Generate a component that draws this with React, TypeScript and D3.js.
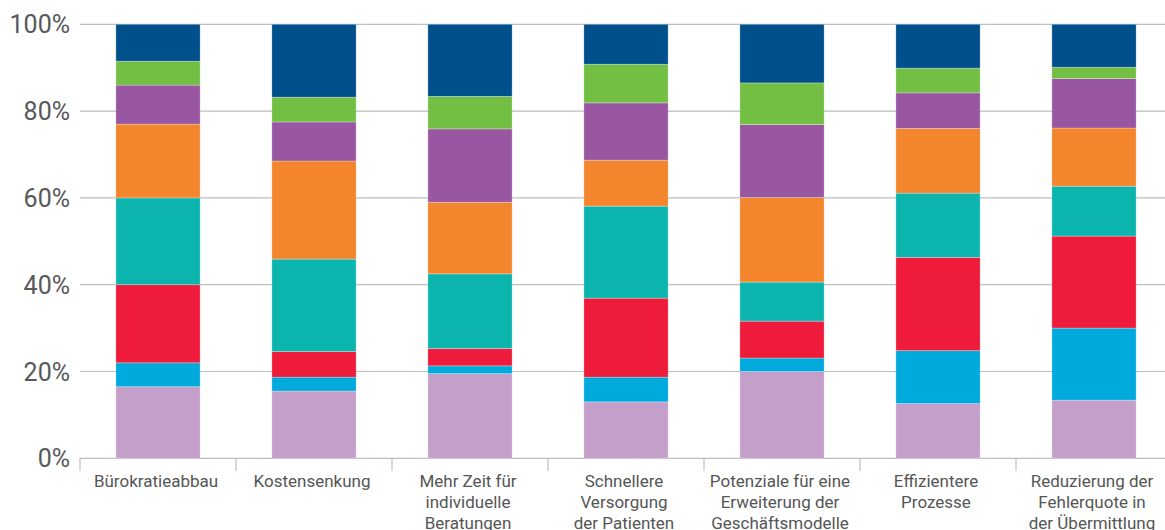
import React from "react";
import * as d3 from "d3";

// categories (label lines)
const categories = [
  "Bürokratieabbau",
  "Kostensenkung",
  "Mehr Zeit für\nindividuelle\nBeratungen",
  "Schnellere\nVersorgung\nder Patienten",
  "Potenziale für eine\nErweiterung der\nGeschäftsmodelle",
  "Effizientere\nProzesse",
  "Reduzierung der\nFehlerquote in\nder Übermittlung",
];

// segments, bottom to top (% of answers)
const lilac = [16.5, 15.5, 19.5, 13.0, 20.0, 12.6, 13.4];
const lightBlue = [5.5, 3.2, 1.8, 5.7, 3.1, 12.2, 16.6];
const red = [18.0, 5.9, 4.0, 18.2, 8.5, 21.5, 21.2];
const teal = [20.0, 21.3, 17.2, 21.2, 9.0, 14.8, 11.5];
const orange = [17.0, 22.6, 16.5, 10.6, 19.5, 14.9, 13.4];
const purple = [9.0, 9.0, 16.9, 13.2, 16.8, 8.2, 11.4];
const green = [5.5, 5.7, 7.5, 8.9, 9.6, 5.7, 2.6];
const navy = [8.5, 16.8, 16.6, 9.2, 13.5, 10.1, 9.9];

const series = [lilac, lightBlue, red, teal, orange, purple, green, navy];
const colors = ["#c39fca", "#00aadd", "#ee1b3b", "#0bb5ae", "#f3862d", "#9857a0", "#72bf44", "#00508c"];

const yTicks = [0, 20, 40, 60, 80, 100];

const W = 1165;
const H = 530;

const App = () => {
  const left = 80;
  const step = 156;
  const x = d3
    .scaleBand<number>()
    .domain(categories.map((_, i) => i))
    .range([left, left + step * categories.length])
    .paddingInner(0.46)
    .paddingOuter(0.23);
  const y = d3.scaleLinear().domain([0, 100]).range([458.3, 24.3]);

  const rows = categories.map((_, i) => {
    const r: Record<string, number> = {};
    series.forEach((s, k) => (r["s" + k] = s[i]));
    return r;
  });
  const stack = d3.stack<Record<string, number>>().keys(series.map((_, k) => "s" + k));
  const layers = stack(rows);

  const grid = "#bdbdbd";

  return (
    <svg width={W} height={H} style={{ position: "absolute", left: 0, top: 0 }}>
      {yTicks.map((t) => (
        <g key={t}>
          <line x1={left} x2={W} y1={y(t)} y2={y(t)} stroke={grid} strokeWidth={1.2} />
          <text
            x={70}
            y={y(t)}
            dy="0.36em"
            textAnchor="end"
            fontFamily="Roboto, sans-serif"
            fontSize={25}
            fill="#58585a"
          >
            {t}%
          </text>
        </g>
      ))}
      {layers.map((layer, k) =>
        layer.map((d, i) => (
          <rect
            key={k + "-" + i}
            x={x(i)}
            width={x.bandwidth()}
            y={y(d[1])}
            height={y(d[0]) - y(d[1])}
            fill={colors[k]}
            stroke="rgba(255,255,255,0.35)"
            strokeWidth={0.8}
          />
        ))
      )}
      {categories.map((_, i) => (
        <line
          key={"t" + i}
          x1={left + step * i}
          x2={left + step * i}
          y1={458}
          y2={471}
          stroke={grid}
          strokeWidth={1.2}
        />
      ))}
      {categories.map((c, i) => {
        const cx = x(i)! + x.bandwidth() / 2 - 2;
        return (
          <text
            key={"l" + i}
            x={cx}
            y={487}
            textAnchor="middle"
            fontFamily="Roboto, sans-serif"
            fontSize={17}
            fill="#555"
          >
            {c.split("\n").map((line, j) => (
              <tspan key={j} x={cx} dy={j === 0 ? 0 : 21}>
                {line}
              </tspan>
            ))}
          </text>
        );
      })}
    </svg>
  );
};

export default App;
